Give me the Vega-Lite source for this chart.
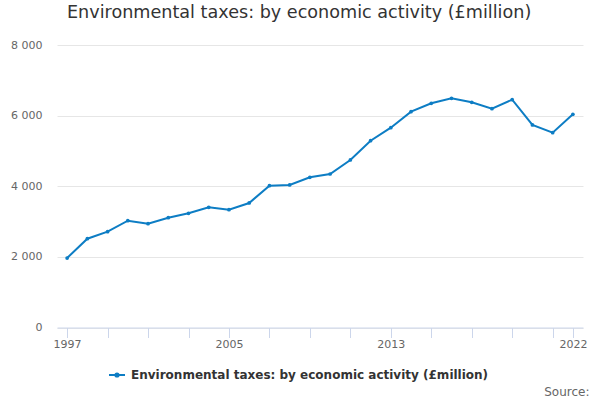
{
  "$schema": "https://vega.github.io/schema/vega-lite/v6.json",
  "width": 526,
  "height": 282.5,
  "autosize": {"type": "none"},
  "padding": {"left": 57, "top": 45, "right": 17, "bottom": 72.5},
  "background": "#ffffff",
  "title": {
    "text": "Environmental taxes: by economic activity (£million)",
    "anchor": "start",
    "frame": "group",
    "dx": 10,
    "offset": 17,
    "font": "DejaVu Sans",
    "fontSize": 17.6,
    "fontWeight": "normal",
    "color": "#333333"
  },
  "config": {
    "view": {"stroke": null},
    "font": "DejaVu Sans",
    "axis": {
      "labelFont": "DejaVu Sans",
      "labelFontSize": 11,
      "labelColor": "#666666"
    }
  },
  "data": {
    "values": [
      {"year": 1997, "value": 1968},
      {"year": 1998, "value": 2515},
      {"year": 1999, "value": 2713},
      {"year": 2000, "value": 3025},
      {"year": 2001, "value": 2940},
      {"year": 2002, "value": 3110},
      {"year": 2003, "value": 3234},
      {"year": 2004, "value": 3404},
      {"year": 2005, "value": 3337},
      {"year": 2006, "value": 3526},
      {"year": 2007, "value": 4016},
      {"year": 2008, "value": 4036},
      {"year": 2009, "value": 4254},
      {"year": 2010, "value": 4347},
      {"year": 2011, "value": 4744},
      {"year": 2012, "value": 5290},
      {"year": 2013, "value": 5659},
      {"year": 2014, "value": 6112},
      {"year": 2015, "value": 6349},
      {"year": 2016, "value": 6491},
      {"year": 2017, "value": 6378},
      {"year": 2018, "value": 6197},
      {"year": 2019, "value": 6452},
      {"year": 2020, "value": 5735},
      {"year": 2021, "value": 5517},
      {"year": 2022, "value": 6038}
    ]
  },
  "mark": {
    "type": "line",
    "strokeWidth": 2,
    "point": {"filled": true, "size": 14}
  },
  "encoding": {
    "x": {
      "field": "year",
      "type": "quantitative",
      "scale": {"domain": [1996.5, 2022.5], "nice": false, "zero": false},
      "axis": {
        "values": [1997, 1999, 2001, 2003, 2005, 2007, 2009, 2011, 2013, 2015, 2017, 2019, 2021, 2022],
        "labelExpr": "indexof([1997, 2005, 2013, 2022], datum.value) >= 0 ? toString(datum.value) : ''",
        "grid": false,
        "domainColor": "#ccd6eb",
        "tickColor": "#ccd6eb",
        "tickSize": 10,
        "labelPadding": 1,
        "labelFlush": false,
        "labelOverlap": false,
        "title": "Source:",
        "titleFont": "DejaVu Sans",
        "titleFontSize": 12,
        "titleFontWeight": "normal",
        "titleColor": "#666666",
        "titleAnchor": "end",
        "titleAlign": "right",
        "titleBaseline": "alphabetic",
        "titleX": 532,
        "titleY": 68
      }
    },
    "y": {
      "field": "value",
      "type": "quantitative",
      "scale": {"domain": [0, 8000], "nice": false},
      "axis": {
        "values": [0, 2000, 4000, 6000, 8000],
        "labelExpr": "replace(format(datum.value, ','), ',', ' ')",
        "domain": false,
        "ticks": false,
        "grid": true,
        "gridColor": "#e6e6e6",
        "labelPadding": 15,
        "title": null
      }
    },
    "color": {
      "datum": "Environmental taxes: by economic activity (£million)",
      "type": "nominal",
      "scale": {"range": ["#0d7dc4"]},
      "legend": {
        "title": null,
        "orient": "none",
        "legendX": 51,
        "legendY": 321,
        "padding": 0,
        "symbolType": "M-1,0H1M-0.2,0A0.2,0.2,0,1,0,0.2,0A0.2,0.2,0,1,0,-0.2,0Z",
        "symbolSize": 256,
        "symbolStrokeWidth": 2,
        "symbolFillColor": "#0d7dc4",
        "symbolStrokeColor": "#0d7dc4",
        "labelFont": "DejaVu Sans",
        "labelFontSize": 12,
        "labelFontWeight": "bold",
        "labelColor": "#333333",
        "labelOffset": 5,
        "labelLimit": 0
      }
    }
  }
}
